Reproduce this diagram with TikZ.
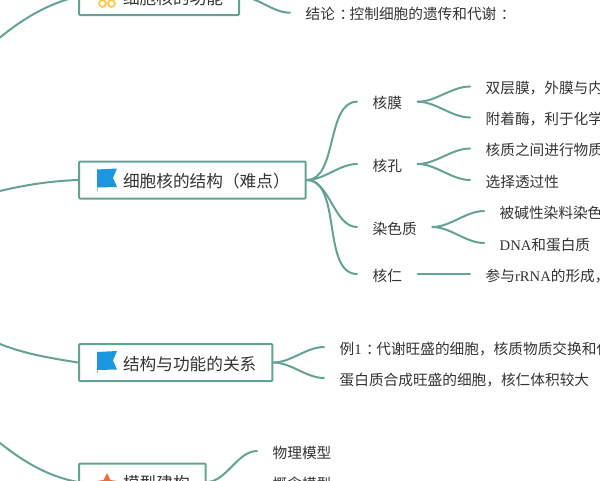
\documentclass[tikz,border=0pt]{standalone}
\usepackage{fontspec}
\setmainfont{Liberation Serif}
\newfontfamily\cjk{Noto Sans CJK SC}
\newcommand\lat[1]{{\normalfont #1}}
\newcommand\cc{\kern4.5pt：\kern-4.5pt}
\definecolor{teal1}{HTML}{64A394}
\definecolor{ink}{HTML}{333333}
\definecolor{flagblue}{HTML}{1B97E0}
\definecolor{gold}{HTML}{FFC940}
\definecolor{starred}{HTML}{EE6E3A}
\tikzset{
  link/.style={draw=teal1,line width=2pt,line cap=round},
  topic/.style={draw=teal1,line width=2pt,rounded corners=1pt,fill=white,text=ink,anchor=west,
    minimum height=37pt,inner ysep=0pt,inner xsep=16pt,text height=16.5pt,text depth=0.9pt,
    font={\cjk\fontsize{16.67}{18}\selectfont}},
  leaf/.style={text=ink,anchor=west,inner ysep=0pt,inner xsep=15.5pt,text height=15pt,text depth=0.6pt,
    font={\cjk\fontsize{14.67}{16}\selectfont}},
  flagicon/.pic={
    \fill[flagblue!55] (-10,-11) rectangle (-8.8,10.5);
    \fill[flagblue] (-10,-10.5) -- (10,-11.5) -- (6,-2) -- (10,7) -- (-10,7.5) -- cycle;
  }
}
\begin{document}
\begin{tikzpicture}[x=1pt,y=-1pt]
\useasboundingbox (0,0) rectangle (600,480);
\clip (0,0) rectangle (600,480);
% free ends at the picture's left edge
\coordinate (e1) at (0,37.5);
\coordinate (e2) at (0,191);
\coordinate (e3) at (0,344);
\coordinate (e4) at (0,443);
% topics
\node[topic] (b1) at (78,-3.5) {\hspace*{28pt}细胞核的功能};
\node[topic] (b2) at (78,180) {\hspace*{28pt}细胞核的结构（难点）};
\node[topic] (b3) at (78,362.5) {\hspace*{28pt}结构与功能的关系};
\node[topic] (b4) at (78,482) {\hspace*{28pt}模型建构};
% leaves
\node[leaf] (c1) at (290,12.7) {结论\cc 控制细胞的遗传和代谢\cc};
\node[leaf] (m) at (357,101.7) {核膜};
\node[leaf] (k) at (357,164) {核孔};
\node[leaf] (r) at (357,227) {染色质};
\node[leaf] (n) at (357,274) {核仁};
\node[leaf] (m1) at (470,86.5) {双层膜，外膜与内};
\node[leaf] (m2) at (470,117.5) {附着酶，利于化学};
\node[leaf] (k1) at (470,148.5) {核质之间进行物质};
\node[leaf] (k2) at (470,180) {选择透过性};
\node[leaf] (r1) at (484,211) {被碱性染料染色};
\node[leaf] (r2) at (484,243) {\lat{DNA}和蛋白质};
\node[leaf] (n1) at (470,274) {参与\lat{rRNA}的形成，};
\node[leaf] (s1) at (324,347) {例\lat{1}\cc 代谢旺盛的细胞，核质物质交换和代};
\node[leaf] (s2) at (324,378) {蛋白质合成旺盛的细胞，核仁体积较大};
\node[leaf] (p1) at (257,451) {物理模型};
\node[leaf] (p2) at (257,482) {概念模型};
% connectors
\draw[link] (e1) .. controls (25,17) and (50,3) .. (b1.west);
\draw[link] (e2) .. controls (25,185) and (50,181) .. (b2.west);
\draw[link] (e3) .. controls (25,354) and (50,358) .. (b3.west);
\draw[link] (e4) .. controls (25,463) and (50,477) .. (b4.west);
\foreach \a/\b in {b1.east/c1.west,b2.east/m.west,b2.east/k.west,b2.east/r.west,b2.east/n.west,
  m.east/m1.west,m.east/m2.west,k.east/k1.west,k.east/k2.west,r.east/r1.west,r.east/r2.west,
  b3.east/s1.west,b3.east/s2.west,b4.east/p1.west,b4.east/p2.west}{
  \draw[link] (\a) to[out=0,in=180,looseness=0.85] (\b);
}
\draw[link] (n.east) -- (n1.west);
% icons
\pic at (107,180) {flagicon};
\pic at (107,362.5) {flagicon};
\fill[starred] (107,473) -- (110.5,480) -- (117.5,481) -- (112.5,487) -- (101.5,487) -- (96.5,481) -- (103.5,480) -- cycle;
\draw[draw=gold,line width=1.8pt] (102.5,3.5) circle (3.4) (111.5,3.5) circle (3.4);
\fill[gold] (100,-4) rectangle (114,-0.5);
\end{tikzpicture}
\end{document}
